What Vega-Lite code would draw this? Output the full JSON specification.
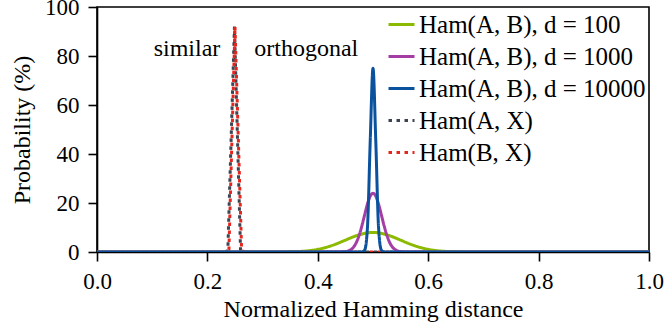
{
  "$schema": "https://vega.github.io/schema/vega-lite/v6.json",
  "width": 552,
  "height": 245,
  "autosize": {"type": "none"},
  "padding": {"left": 97, "top": 7, "right": 16, "bottom": 75},
  "background": "white",
  "config": {
    "font": "Liberation Serif",
    "view": {"stroke": "black", "strokeWidth": 1.6},
    "axis": {
      "domainColor": "black", "domainWidth": 1.6,
      "tickColor": "black", "tickWidth": 1.6, "tickSize": 9,
      "labelFont": "Liberation Serif", "labelFontSize": 23, "labelColor": "black",
      "titleFont": "Liberation Serif", "titleFontSize": 24, "titleFontWeight": "normal", "titleColor": "black",
      "grid": false
    },
    "legend": {
      "orient": "top-right", "offset": 3, "padding": 0,
      "labelFont": "Liberation Serif", "labelFontSize": 25, "labelColor": "black",
      "symbolType": "stroke", "symbolSize": 676, "symbolStrokeWidth": 3,
      "rowPadding": 4, "labelOffset": 3, "labelLimit": 400
    }
  },
  "datasets": {
    "curves": [
      {"x": 0.0, "p": 0, "s": "Ham(A, B), d = 100"},
      {"x": 0.27, "p": 0.0002, "s": "Ham(A, B), d = 100"},
      {"x": 0.28, "p": 0.0004, "s": "Ham(A, B), d = 100"},
      {"x": 0.29, "p": 0.001, "s": "Ham(A, B), d = 100"},
      {"x": 0.30, "p": 0.0023, "s": "Ham(A, B), d = 100"},
      {"x": 0.31, "p": 0.0052, "s": "Ham(A, B), d = 100"},
      {"x": 0.32, "p": 0.0113, "s": "Ham(A, B), d = 100"},
      {"x": 0.33, "p": 0.0232, "s": "Ham(A, B), d = 100"},
      {"x": 0.34, "p": 0.0458, "s": "Ham(A, B), d = 100"},
      {"x": 0.35, "p": 0.0864, "s": "Ham(A, B), d = 100"},
      {"x": 0.36, "p": 0.157, "s": "Ham(A, B), d = 100"},
      {"x": 0.37, "p": 0.271, "s": "Ham(A, B), d = 100"},
      {"x": 0.38, "p": 0.448, "s": "Ham(A, B), d = 100"},
      {"x": 0.39, "p": 0.711, "s": "Ham(A, B), d = 100"},
      {"x": 0.40, "p": 1.084, "s": "Ham(A, B), d = 100"},
      {"x": 0.41, "p": 1.587, "s": "Ham(A, B), d = 100"},
      {"x": 0.42, "p": 2.229, "s": "Ham(A, B), d = 100"},
      {"x": 0.43, "p": 3.007, "s": "Ham(A, B), d = 100"},
      {"x": 0.44, "p": 3.895, "s": "Ham(A, B), d = 100"},
      {"x": 0.45, "p": 4.847, "s": "Ham(A, B), d = 100"},
      {"x": 0.46, "p": 5.796, "s": "Ham(A, B), d = 100"},
      {"x": 0.47, "p": 6.659, "s": "Ham(A, B), d = 100"},
      {"x": 0.48, "p": 7.353, "s": "Ham(A, B), d = 100"},
      {"x": 0.49, "p": 7.803, "s": "Ham(A, B), d = 100"},
      {"x": 0.50, "p": 7.959, "s": "Ham(A, B), d = 100"},
      {"x": 0.51, "p": 7.803, "s": "Ham(A, B), d = 100"},
      {"x": 0.52, "p": 7.353, "s": "Ham(A, B), d = 100"},
      {"x": 0.53, "p": 6.659, "s": "Ham(A, B), d = 100"},
      {"x": 0.54, "p": 5.796, "s": "Ham(A, B), d = 100"},
      {"x": 0.55, "p": 4.847, "s": "Ham(A, B), d = 100"},
      {"x": 0.56, "p": 3.895, "s": "Ham(A, B), d = 100"},
      {"x": 0.57, "p": 3.007, "s": "Ham(A, B), d = 100"},
      {"x": 0.58, "p": 2.229, "s": "Ham(A, B), d = 100"},
      {"x": 0.59, "p": 1.587, "s": "Ham(A, B), d = 100"},
      {"x": 0.60, "p": 1.084, "s": "Ham(A, B), d = 100"},
      {"x": 0.61, "p": 0.711, "s": "Ham(A, B), d = 100"},
      {"x": 0.62, "p": 0.448, "s": "Ham(A, B), d = 100"},
      {"x": 0.63, "p": 0.271, "s": "Ham(A, B), d = 100"},
      {"x": 0.64, "p": 0.157, "s": "Ham(A, B), d = 100"},
      {"x": 0.65, "p": 0.0864, "s": "Ham(A, B), d = 100"},
      {"x": 0.66, "p": 0.0458, "s": "Ham(A, B), d = 100"},
      {"x": 0.67, "p": 0.0232, "s": "Ham(A, B), d = 100"},
      {"x": 0.68, "p": 0.0113, "s": "Ham(A, B), d = 100"},
      {"x": 0.69, "p": 0.0052, "s": "Ham(A, B), d = 100"},
      {"x": 0.70, "p": 0.0023, "s": "Ham(A, B), d = 100"},
      {"x": 0.71, "p": 0.001, "s": "Ham(A, B), d = 100"},
      {"x": 0.72, "p": 0.0004, "s": "Ham(A, B), d = 100"},
      {"x": 0.73, "p": 0.0002, "s": "Ham(A, B), d = 100"},
      {"x": 1.0, "p": 0, "s": "Ham(A, B), d = 100"},

      {"x": 0.0, "p": 0, "s": "Ham(A, B), d = 1000"},
      {"x": 0.425, "p": 0, "s": "Ham(A, B), d = 1000"},
      {"x": 0.43, "p": 0.005, "s": "Ham(A, B), d = 1000"},
      {"x": 0.435, "p": 0.02, "s": "Ham(A, B), d = 1000"},
      {"x": 0.44, "p": 0.04, "s": "Ham(A, B), d = 1000"},
      {"x": 0.445, "p": 0.08, "s": "Ham(A, B), d = 1000"},
      {"x": 0.45, "p": 0.16, "s": "Ham(A, B), d = 1000"},
      {"x": 0.455, "p": 0.41, "s": "Ham(A, B), d = 1000"},
      {"x": 0.46, "p": 0.98, "s": "Ham(A, B), d = 1000"},
      {"x": 0.465, "p": 2.06, "s": "Ham(A, B), d = 1000"},
      {"x": 0.47, "p": 3.97, "s": "Ham(A, B), d = 1000"},
      {"x": 0.475, "p": 6.9, "s": "Ham(A, B), d = 1000"},
      {"x": 0.48, "p": 10.8, "s": "Ham(A, B), d = 1000"},
      {"x": 0.485, "p": 15.3, "s": "Ham(A, B), d = 1000"},
      {"x": 0.49, "p": 19.6, "s": "Ham(A, B), d = 1000"},
      {"x": 0.495, "p": 22.8, "s": "Ham(A, B), d = 1000"},
      {"x": 0.50, "p": 24.0, "s": "Ham(A, B), d = 1000"},
      {"x": 0.505, "p": 22.8, "s": "Ham(A, B), d = 1000"},
      {"x": 0.51, "p": 19.6, "s": "Ham(A, B), d = 1000"},
      {"x": 0.515, "p": 15.3, "s": "Ham(A, B), d = 1000"},
      {"x": 0.52, "p": 10.8, "s": "Ham(A, B), d = 1000"},
      {"x": 0.525, "p": 6.9, "s": "Ham(A, B), d = 1000"},
      {"x": 0.53, "p": 3.97, "s": "Ham(A, B), d = 1000"},
      {"x": 0.535, "p": 2.06, "s": "Ham(A, B), d = 1000"},
      {"x": 0.54, "p": 0.98, "s": "Ham(A, B), d = 1000"},
      {"x": 0.545, "p": 0.41, "s": "Ham(A, B), d = 1000"},
      {"x": 0.55, "p": 0.16, "s": "Ham(A, B), d = 1000"},
      {"x": 0.555, "p": 0.08, "s": "Ham(A, B), d = 1000"},
      {"x": 0.56, "p": 0.04, "s": "Ham(A, B), d = 1000"},
      {"x": 0.565, "p": 0.02, "s": "Ham(A, B), d = 1000"},
      {"x": 0.57, "p": 0.005, "s": "Ham(A, B), d = 1000"},
      {"x": 0.575, "p": 0, "s": "Ham(A, B), d = 1000"},
      {"x": 1.0, "p": 0, "s": "Ham(A, B), d = 1000"},

      {"x": 0.0, "p": 0, "s": "Ham(A, B), d = 10000"},
      {"x": 0.475, "p": 0, "s": "Ham(A, B), d = 10000"},
      {"x": 0.48, "p": 0.03, "s": "Ham(A, B), d = 10000"},
      {"x": 0.485, "p": 0.83, "s": "Ham(A, B), d = 10000"},
      {"x": 0.49, "p": 10.2, "s": "Ham(A, B), d = 10000"},
      {"x": 0.495, "p": 45.5, "s": "Ham(A, B), d = 10000"},
      {"x": 0.50, "p": 75.0, "s": "Ham(A, B), d = 10000"},
      {"x": 0.505, "p": 45.5, "s": "Ham(A, B), d = 10000"},
      {"x": 0.51, "p": 10.2, "s": "Ham(A, B), d = 10000"},
      {"x": 0.515, "p": 0.83, "s": "Ham(A, B), d = 10000"},
      {"x": 0.52, "p": 0.03, "s": "Ham(A, B), d = 10000"},
      {"x": 0.525, "p": 0, "s": "Ham(A, B), d = 10000"},
      {"x": 1.0, "p": 0, "s": "Ham(A, B), d = 10000"},

      {"x": 0.0, "p": 0, "s": "Ham(A, X)"},
      {"x": 0.23, "p": 0, "s": "Ham(A, X)"},
      {"x": 0.237, "p": 0.5, "s": "Ham(A, X)"},
      {"x": 0.249, "p": 92, "s": "Ham(A, X)"},
      {"x": 0.26, "p": 1, "s": "Ham(A, X)"},
      {"x": 0.27, "p": 0, "s": "Ham(A, X)"},
      {"x": 1.0, "p": 0, "s": "Ham(A, X)"},

      {"x": 0.0, "p": 0, "s": "Ham(B, X)"},
      {"x": 0.23, "p": 0, "s": "Ham(B, X)"},
      {"x": 0.239, "p": 1, "s": "Ham(B, X)"},
      {"x": 0.25, "p": 92, "s": "Ham(B, X)"},
      {"x": 0.262, "p": 0.5, "s": "Ham(B, X)"},
      {"x": 0.27, "p": 0, "s": "Ham(B, X)"},
      {"x": 1.0, "p": 0, "s": "Ham(B, X)"}
    ],
    "notes": [
      {"x": 0.163, "p": 80, "t": "similar"},
      {"x": 0.379, "p": 80, "t": "orthogonal"}
    ]
  },
  "encoding": {
    "x": {
      "field": "x", "type": "quantitative",
      "scale": {"domain": [0, 1], "nice": false, "zero": false},
      "axis": {"title": "Normalized Hamming distance", "values": [0, 0.2, 0.4, 0.6, 0.8, 1.0], "format": ".1f", "labelPadding": 9, "titlePadding": 4, "labelFlush": false}
    },
    "y": {
      "field": "p", "type": "quantitative",
      "scale": {"domain": [0, 100], "nice": false},
      "axis": {"title": "Probability (%)", "values": [0, 20, 40, 60, 80, 100], "labelPadding": 9, "titlePadding": 10, "labelFlush": false}
    }
  },
  "layer": [
    {
      "data": {"name": "curves"},
      "transform": [{"filter": "datum.s === 'Ham(A, X)'"}],
      "mark": {"type": "line", "strokeWidth": 3, "strokeCap": "butt", "clip": true},
      "encoding": {
        "color": {"field": "s", "type": "nominal", "title": null,
          "scale": {"domain": ["Ham(A, B), d = 100", "Ham(A, B), d = 1000", "Ham(A, B), d = 10000", "Ham(A, X)", "Ham(B, X)"],
                    "range": ["#8cba00", "#a43ea4", "#0b529e", "#3c4450", "#e3271f"]}},
        "strokeDash": {"field": "s", "type": "nominal", "title": null,
          "scale": {"domain": ["Ham(A, B), d = 100", "Ham(A, B), d = 1000", "Ham(A, B), d = 10000", "Ham(A, X)", "Ham(B, X)"],
                    "range": [[1, 0], [1, 0], [1, 0], [3.5, 4.5], [3.5, 4.5]]}}
      }
    },
    {
      "data": {"name": "curves"},
      "transform": [{"filter": "datum.s === 'Ham(B, X)'"}],
      "mark": {"type": "line", "strokeWidth": 3, "strokeCap": "butt", "strokeDashOffset": 4, "clip": true},
      "encoding": {
        "color": {"field": "s", "type": "nominal", "title": null},
        "strokeDash": {"field": "s", "type": "nominal", "title": null}
      }
    },
    {
      "data": {"name": "curves"},
      "transform": [{"filter": "indexof(datum.s, 'Ham(A, B)') === 0"}],
      "mark": {"type": "line", "strokeWidth": 3, "interpolate": "monotone", "clip": true},
      "encoding": {
        "color": {"field": "s", "type": "nominal", "title": null},
        "strokeDash": {"field": "s", "type": "nominal", "title": null}
      }
    },
    {
      "data": {"name": "notes"},
      "mark": {"type": "text", "font": "Liberation Serif", "fontSize": 24, "color": "black", "align": "center", "baseline": "alphabetic"},
      "encoding": {"text": {"field": "t"}}
    }
  ],
  "resolve": {"scale": {"color": "shared", "strokeDash": "shared"}}
}
